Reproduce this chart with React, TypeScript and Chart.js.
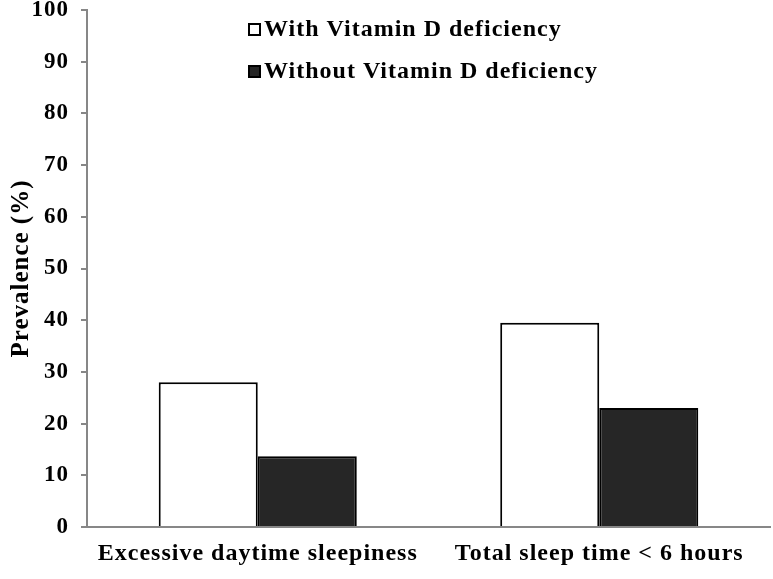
import React, { useEffect, useRef } from "react";
import { Chart, registerables } from "chart.js";

Chart.register(...registerables);

const categories = ["Excessive daytime sleepiness", "Total sleep time < 6 hours"];
const withDeficiency = [28, 39.5];
const withoutDeficiency = [13.7, 23];
const seriesLabels = ["With Vitamin D deficiency", "Without Vitamin D deficiency"];
const yTicks = [0, 10, 20, 30, 40, 50, 60, 70, 80, 90, 100];

const FONT = "'Liberation Serif', 'Times New Roman', serif";

const spacingPlugin = {
  id: "letterSpacing",
  beforeDraw(chart: any) {
    chart.ctx.letterSpacing = "1px";
  },
};

const legendPlugin = {
  id: "customLegend",
  afterDraw(chart: any) {
    const { ctx, chartArea } = chart;
    ctx.save();
    ctx.letterSpacing = "1px";
    ctx.font = `bold 24px ${FONT}`;
    ctx.textBaseline = "middle";
    ctx.textAlign = "left";
    chart.data.datasets.forEach((ds: any, i: number) => {
      const x = chartArea.left + 162;
      const y = chartArea.top + 19 + i * 42;
      ctx.fillStyle = ds.backgroundColor;
      ctx.strokeStyle = "#000";
      ctx.lineWidth = 2;
      ctx.fillRect(x, y - 5, 11, 11);
      ctx.strokeRect(x, y - 5, 11, 11);
      ctx.fillStyle = "#000";
      ctx.fillText(ds.label, x + 15, y + 1);
    });
    ctx.restore();
  },
};

export default function App() {
  const ref = useRef<HTMLCanvasElement | null>(null);
  useEffect(() => {
    if (!ref.current) return;
    const chart = new Chart(ref.current, {
      type: "bar",
      data: {
        labels: categories,
        datasets: [
          {
            label: seriesLabels[0],
            data: withDeficiency,
            backgroundColor: "#ffffff",
            borderColor: "#000000",
            borderWidth: 2,
            categoryPercentage: 0.58,
            barPercentage: 1.0,
          },
          {
            label: seriesLabels[1],
            data: withoutDeficiency,
            backgroundColor: "#262626",
            borderColor: "#000000",
            borderWidth: 2,
            categoryPercentage: 0.58,
            barPercentage: 1.0,
          },
        ],
      },
      options: {
        responsive: false,
        animation: false,
        layout: { padding: { top: 10, right: 3, left: 0, bottom: 0 } },
        plugins: {
          legend: { display: false },
          tooltip: { enabled: false },
        },
        scales: {
          x: {
            grid: { display: false, drawTicks: false },
            border: { display: true, color: "#878787", width: 2 },
            ticks: {
              color: "#000",
              font: { family: FONT, size: 24, weight: "bold" },
              padding: 12,
              maxRotation: 0,
            },
            afterFit(scale: any) {
              scale.height = 52;
              scale.paddingLeft = 0;
              scale.paddingRight = 0;
            },
          },
          y: {
            min: 0,
            max: 100,
            afterBuildTicks(scale: any) {
              scale.ticks = yTicks.map((v) => ({ value: v }));
            },
            grid: {
              drawOnChartArea: false,
              drawTicks: true,
              tickLength: 6,
              color: "#878787",
              lineWidth: 2,
            },
            border: { display: true, color: "#878787", width: 2 },
            ticks: {
              color: "#000",
              font: { family: FONT, size: 23, weight: "bold" },
              padding: 12,
            },
            title: {
              display: true,
              text: "Prevalence (%)",
              color: "#000",
              font: { family: FONT, size: 25, weight: "bold" },
              padding: { top: 7, bottom: 0 },
            },
            afterFit(scale: any) {
              scale.width = 87;
              scale.paddingTop = 0;
              scale.paddingBottom = 0;
            },
          },
        },
      },
      plugins: [spacingPlugin, legendPlugin],
    });
    return () => chart.destroy();
  }, []);
  return (
    <div style={{ position: "fixed", left: 0, top: 0, width: 773, height: 579, background: "#fff" }}>
      <canvas ref={ref} width={773} height={579} />
    </div>
  );
}
